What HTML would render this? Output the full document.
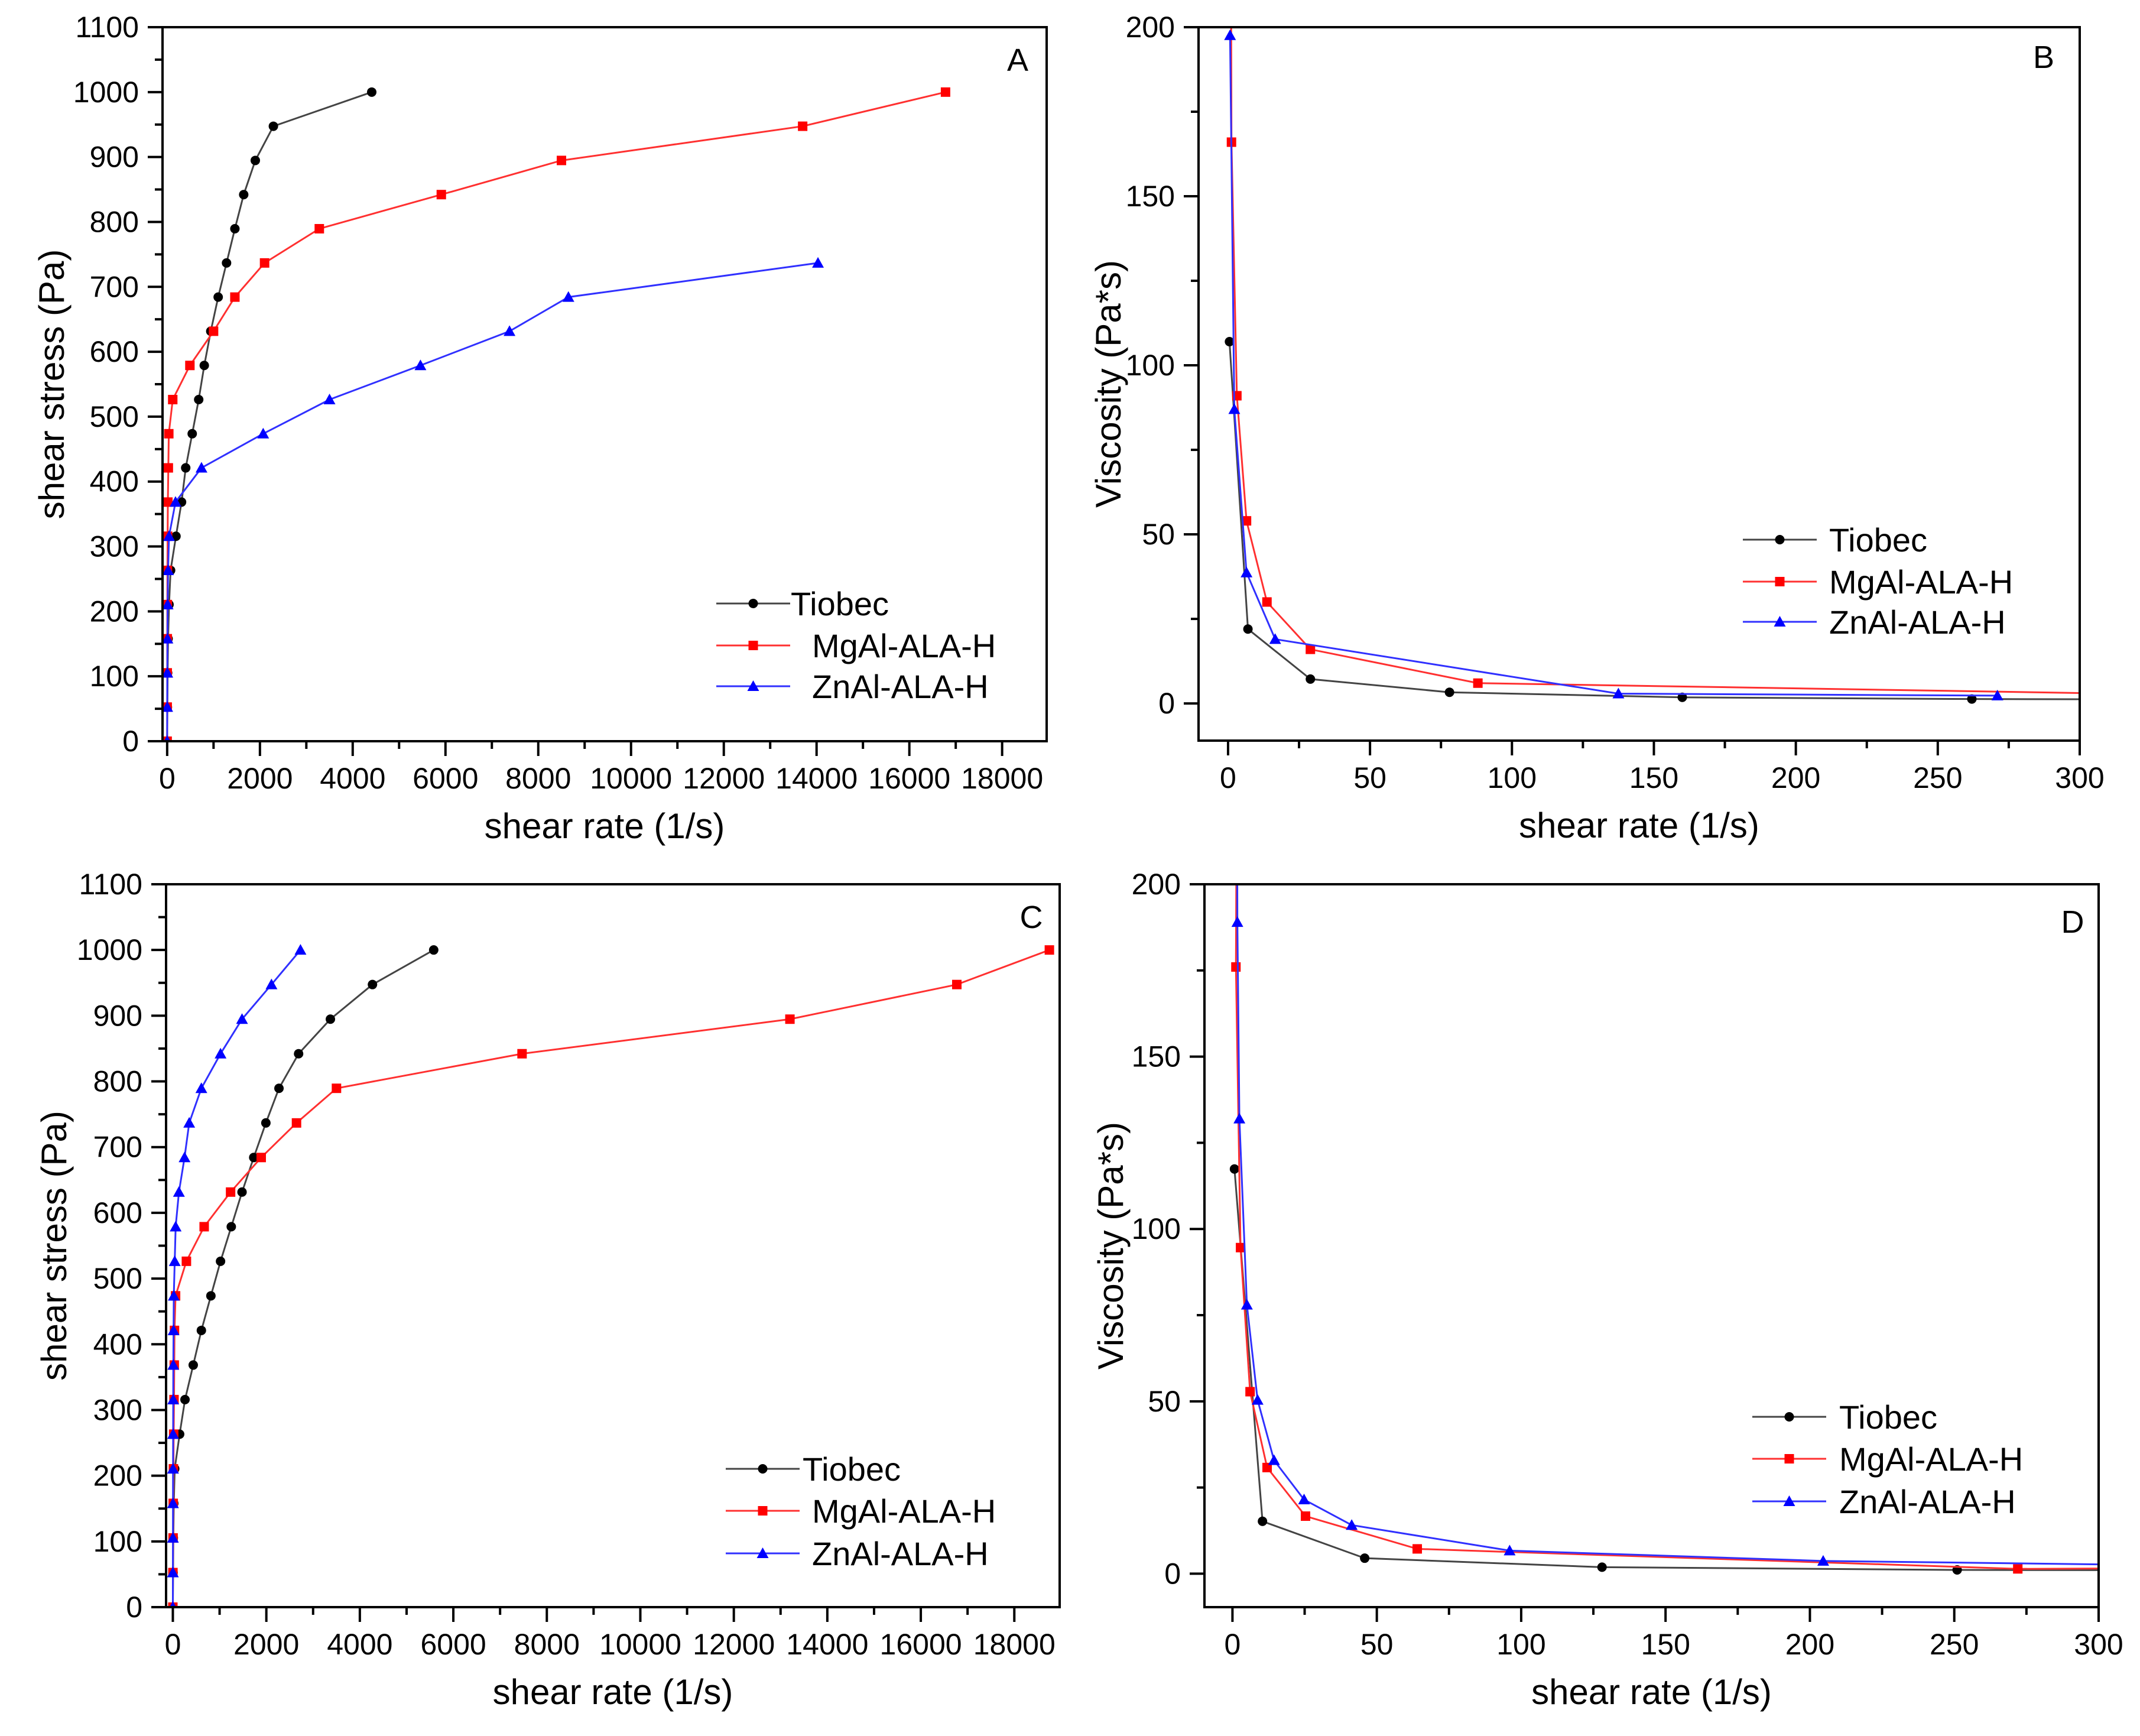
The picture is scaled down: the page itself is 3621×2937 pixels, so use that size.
<!DOCTYPE html>
<html><head><meta charset="utf-8"><style>
html,body{margin:0;padding:0;background:#fff;}
svg text{font-family:"Liberation Sans",Arial,sans-serif;fill:#000;}
</style></head><body>
<svg id="fig" xmlns="http://www.w3.org/2000/svg" width="3621" height="2932" viewBox="0 0 3621 2932">
<rect x="0" y="0" width="3621" height="2932" fill="#fff"/>
</svg>
<script>
// ---- data ----
const stressLevels = [0,52.6,105.3,157.9,210.5,263.2,315.8,368.4,421.1,473.7,526.3,578.9,631.6,684.2,736.8,789.5,842.1,894.7,947.4,1000];
const aTiobecX = [0,5,10,20,40,74,190,310,400,540,680,800,940,1100,1280,1460,1650,1900,2290,4410];
const aMgAlX   = [0,1,2,3,4,6,10,15,25,35,120,490,1000,1460,2100,3280,5910,8500,13700,16780];
const aZnAlX   = [0,1,3,6,10,20,40,180,740,2070,3500,5460,7380,8650,14030];
const cTiobecX = [0,5,10,20,40,145,260,436,610,814,1020,1250,1480,1730,1990,2270,2690,3370,4270,5580];
const cMgAlX   = [0,2,5,8,12,18,25,30,35,58,290,670,1235,1890,2645,3500,7470,13200,16770,18750];
const cZnAlX   = [0,1,2,3,4,6,8,10,15,20,40,60,130,250,350,610,1020,1480,2110,2730];
const bTiobecX = [0.5,7,29,78,160,262,320];
const bTiobecY = [107,22,7.2,3.3,1.8,1.3,1.2];
const bMgAlX   = [1,1.2,3.1,6.5,13.7,29,88,320];
const bMgAlY   = [230,166,91,54,30,16,6,2.8];
const bZnAlX   = [0.7,2.2,6.5,16.6,137.5,271];
const bZnAlY   = [197.6,87,38.7,19,2.9,2.3];
const dTiobecX = [0.7,10.4,45.8,128,251,320];
const dTiobecY = [117.4,15.2,4.5,1.9,1.1,1.0];
const dMgAlX   = [1.5,1.2,2.8,6.1,12,25.3,64,272,320];
const dMgAlY   = [230,176,94.6,52.8,30.8,16.7,7.2,1.4,1.6];
const dZnAlX   = [1.6,1.7,2.4,5,8.7,14.4,24.8,41.3,96,204.6,320];
const dZnAlY   = [230,189,132,78,50.4,32.9,21.5,14.1,6.7,3.7,2.5];
const stressTicks = [0,100,200,300,400,500,600,700,800,900,1000,1100];
const rateTicksBig = [0,2000,4000,6000,8000,10000,12000,14000,16000,18000];
const viscTicks = [0,50,100,150,200];
const rateTicksSmall = [0,50,100,150,200,250,300];
const seriesNames = ["Tiobec","MgAl-ALA-H","ZnAl-ALA-H"];
const seriesColors = ["#000","#ff0000","#0000ff"];
const lineColors = ["#444","#ff3030","#3030ff"];

const NS="http://www.w3.org/2000/svg";
const svg=document.getElementById('fig');
function el(tag,attrs,parent){const e=document.createElementNS(NS,tag);for(const k in attrs)e.setAttribute(k,attrs[k]);(parent||svg).appendChild(e);return e;}

function panel(cfg){
  const g=el('g',{});
  
  
  const {L,R,T,B,x0,x1,y0,y1}=cfg;
  const sx=v=>L+(v-x0)/(x1-x0)*(R-L);
  const sy=v=>B-(v-y0)/(y1-y0)*(B-T);
  const cid='clip'+cfg.letter;
  const cp=el('clipPath',{id:cid},g);el('rect',{x:L,y:T,width:R-L,height:B-T},cp);
  const sg=el('g',{'clip-path':'url(#'+cid+')'},g);
  cfg.series.forEach((s,i)=>{
    const pts=s.x.map((xv,j)=>sx(xv)+','+sy(s.y[j])).join(' ');
    const pl=el('polyline',{points:pts,fill:'none',stroke:lineColors[i],'stroke-width':3},sg);
    
    
    s.x.forEach((xv,j)=>{
      const X=sx(xv),Y=sy(s.y[j]);
      let m;
      if(i===0)m=el('circle',{cx:X,cy:Y,r:8,fill:seriesColors[0]},sg);
      else if(i===1)m=el('rect',{x:X-8,y:Y-8,width:16,height:16,fill:seriesColors[1]},sg);
      else m=el('polygon',{points:`${X},${Y-10} ${X-10},${Y+8} ${X+10},${Y+8}`,fill:seriesColors[2]},sg);
      
      
    });
  });
  const fr=el('rect',{x:L,y:T,width:R-L,height:B-T,fill:'none',stroke:'#000','stroke-width':4},g);
  
  
  cfg.yt.forEach((v,k)=>{
    const Y=sy(v);
    el('line',{x1:L-25,x2:L,y1:Y,y2:Y,stroke:'#000','stroke-width':4},g);
    if(k<cfg.yt.length-1){const m=sy(v+cfg.ym);el('line',{x1:L-13,x2:L,y1:m,y2:m,stroke:'#000','stroke-width':4},g);}
    const t=el('text',{x:L-40,y:Y+17,'font-size':50,'text-anchor':'end'},g);t.textContent=v;
    
    
  });
  cfg.xt.forEach((v,k)=>{
    const X=sx(v);
    el('line',{x1:X,x2:X,y1:B,y2:B+25,stroke:'#000','stroke-width':4},g);
    const m=sx(v+cfg.xm); if(m<R-2) el('line',{x1:m,x2:m,y1:B,y2:B+13,stroke:'#000','stroke-width':4},g);
    const t=el('text',{x:X,y:B+80,'font-size':50,'text-anchor':'middle'},g);t.textContent=v;
    
    
  });
  const xt=el('text',{x:(L+R)/2,y:B+164,'font-size':60,'text-anchor':'middle'},g);xt.textContent='shear rate (1/s)';
  
  
  const yt=el('text',{x:0,y:0,'font-size':60,'text-anchor':'middle',transform:`translate(${cfg.ytx},${(T+B)/2}) rotate(-90)`},g);yt.textContent=cfg.ytitle;
  
  
  const pl=el('text',{x:cfg.lx,y:cfg.ly,'font-size':54,'text-anchor':'middle'},g);pl.textContent=cfg.letter;
  
  
  const lg=el('g',{},g);
  
  
  seriesNames.forEach((n,i)=>{
    const Y=cfg.legY[i],X1=cfg.legX,X2=cfg.legX+125,MX=(X1+X2)/2;
    const e=el('g',{},lg);
    
    
    el('line',{x1:X1,x2:X2,y1:Y,y2:Y,stroke:lineColors[i],'stroke-width':3},e);
    if(i===0)el('circle',{cx:MX,cy:Y,r:8,fill:'#000'},e);
    else if(i===1)el('rect',{x:MX-8,y:Y-8,width:16,height:16,fill:'#f00'},e);
    else el('polygon',{points:`${MX},${Y-10} ${MX-10},${Y+8} ${MX+10},${Y+8}`,fill:'#00f'},e);
    const t=el('text',{x:cfg.legT[i],y:Y+20,'font-size':56},e);t.textContent=n;
  });
}
const sl=n=>stressLevels.slice(0,n);
panel({letter:'A',L:275,R:1771,T:46,B:1254,x0:-100,x1:18960,y0:0,y1:1100,
  yt:stressTicks,ym:50,xt:rateTicksBig,xm:1000,ytitle:'shear stress (Pa)',ytx:108,lx:1722,ly:120,
  series:[{x:aTiobecX,y:sl(20)},{x:aMgAlX,y:sl(20)},{x:aZnAlX,y:sl(15)}],
  legX:1212,legY:[1021,1092,1161],legT:[1338,1374,1374]});
panel({letter:'B',L:2028,R:3519,T:46,B:1253,x0:-10.4,x1:300,y0:-11,y1:200,
  yt:viscTicks,ym:25,xt:rateTicksSmall,xm:25,ytitle:'Viscosity (Pa*s)',ytx:1896,lx:3458,ly:115,
  series:[{x:bTiobecX,y:bTiobecY},{x:bMgAlX,y:bMgAlY},{x:bZnAlX,y:bZnAlY}],
  legX:2949,legY:[913,984,1052],legT:[3095,3095,3095]});
panel({letter:'C',L:281,R:1793,T:1496,B:2719,x0:-145,x1:18970,y0:0,y1:1100,
  yt:stressTicks,ym:50,xt:rateTicksBig,xm:1000,ytitle:'shear stress (Pa)',ytx:112,lx:1745,ly:1570,
  series:[{x:cTiobecX,y:sl(20)},{x:cMgAlX,y:sl(20)},{x:cZnAlX,y:sl(20)}],
  legX:1228,legY:[2485,2556,2628],legT:[1358,1374,1374]});
panel({letter:'D',L:2038,R:3551,T:1496,B:2719,x0:-9.7,x1:300,y0:-9.7,y1:200,
  yt:viscTicks,ym:25,xt:rateTicksSmall,xm:25,ytitle:'Viscosity (Pa*s)',ytx:1900,lx:3507,ly:1578,
  series:[{x:dTiobecX,y:dTiobecY},{x:dMgAlX,y:dMgAlY},{x:dZnAlX,y:dZnAlY}],
  legX:2965,legY:[2397,2468,2540],legT:[3112,3112,3112]});
</script>
</body></html>
